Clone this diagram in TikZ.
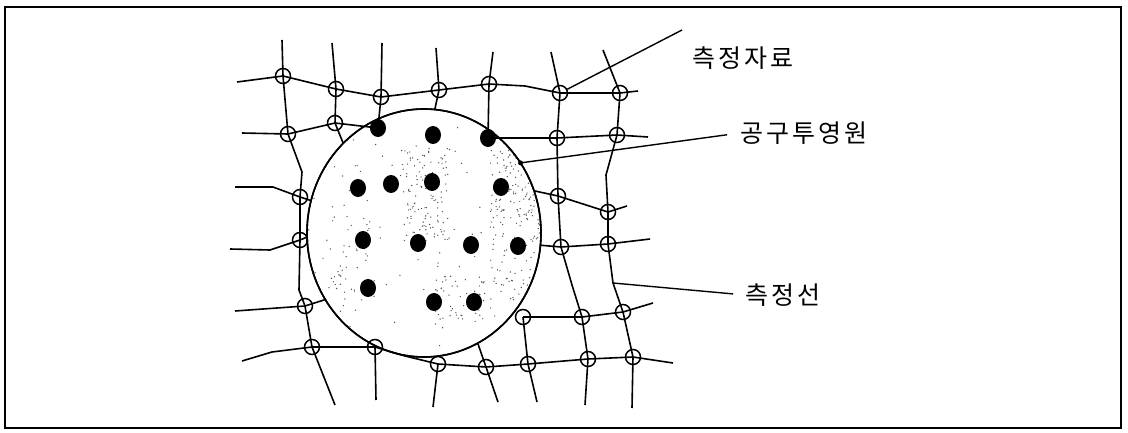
\documentclass[tikz,border=0pt]{standalone}
\usepackage{fontspec}
\newfontfamily\kor[LetterSpace=12]{Noto Sans CJK KR}
\usetikzlibrary{shapes.geometric}
\tikzset{
  mpt/.style={circle,draw,line width=1.5pt,minimum size=15pt,inner sep=0pt},
  tdot/.style={ellipse,fill=black,minimum width=16pt,minimum height=18pt,inner sep=0pt},
  toolc/.style={ellipse,draw,line width=1.6pt,minimum width=234pt,minimum height=248pt,inner sep=0pt,outer sep=0pt},
  mline/.style={line width=1.6pt,line join=round},
  leader/.style={line width=1.4pt},
  lbl/.style={anchor=west,inner sep=0pt,font=\kor\fontsize{25}{30}\selectfont},
  stip/.style={fill=black!70}
}

\begin{document}
\begin{tikzpicture}[x=1pt,y=-1pt]
  \useasboundingbox (0,0) rectangle (1128,433);
  \draw[line width=1.4pt] (5,7) rectangle (1121,428);

  \node[toolc] (tool) at (424,233) {};
  \begin{scope}
    \clip (424,233) ellipse [x radius=117,y radius=124];
    \pgfmathsetseed{11}
    \foreach \i in {1,...,110} {\fill[stip] ({300+245*rnd},{105+260*rnd}) circle (0.7);}
    \foreach \i in {1,...,260} {\fill[stip] ({490+55*rnd},{115+185*rnd}) circle (0.7);}
    \foreach \i in {1,...,120} {\fill[stip] ({400+50*rnd},{145+95*rnd}) circle (0.7);}
    \foreach \i in {1,...,60} {\fill[stip] ({435+50*rnd},{275+50*rnd}) circle (0.7);}
    \foreach \i in {1,...,50} {\fill[stip] ({325+45*rnd},{200+130*rnd}) circle (0.7);}
  \end{scope}
  \draw[line width=1.6pt] (tool.center) ellipse [x radius=117,y radius=124];

  \node[mpt] (a1) at (283,76) {};
  \node[mpt] (a2) at (336,89) {};
  \node[mpt] (a3) at (381,97) {};
  \node[mpt] (a4) at (439,90) {};
  \node[mpt] (a5) at (489,84) {};
  \node[mpt] (a6) at (560,93) {};
  \node[mpt] (a7) at (620,93) {};
  \node[mpt] (b1) at (288,134) {};
  \node[mpt] (b2) at (335,123) {};
  \node[mpt] (b5) at (557,138) {};
  \node[mpt] (b6) at (617,135) {};
  \node[mpt] (c1) at (300,197) {};
  \node[mpt] (c2) at (558,196) {};
  \node[mpt] (c3) at (608,212) {};
  \node[mpt] (f1) at (300,240) {};
  \node[mpt] (f2) at (561,247) {};
  \node[mpt] (f3) at (608,244) {};
  \node[mpt] (g1) at (305,306) {};
  \node[mpt] (g2) at (523,317) {};
  \node[mpt] (g3) at (582,317) {};
  \node[mpt] (g4) at (623,312) {};
  \node[mpt] (h1) at (312,347) {};
  \node[mpt] (h2) at (375,347) {};
  \node[mpt] (h3) at (438,364) {};
  \node[mpt] (h4) at (486,367) {};
  \node[mpt] (h5) at (528,364) {};
  \node[mpt] (h6) at (588,359) {};
  \node[mpt] (h7) at (633,357) {};

  \node[tdot] (d1) at (378,128) {};
  \node[tdot] (d2) at (433,135) {};
  \node[tdot] (d3) at (488,138) {};
  \node[tdot] (d4) at (358,188) {};
  \node[tdot] (d5) at (391,184) {};
  \node[tdot] (d6) at (432,182) {};
  \node[tdot] (d7) at (501,187) {};
  \node[tdot] (d8) at (363,240) {};
  \node[tdot] (d9) at (418,243) {};
  \node[tdot] (d10) at (471,245) {};
  \node[tdot] (d11) at (518,246) {};
  \node[tdot] (d12) at (368,288) {};
  \node[tdot] (d13) at (434,302) {};
  \node[tdot] (d14) at (474,302) {};

  \coordinate (w1) at (237,82);  \coordinate (e1) at (638,91);
  \coordinate (w2) at (242,133); \coordinate (e2) at (648,137);
  \coordinate (w3) at (235,187); \coordinate (e3) at (627,206);
  \coordinate (w4) at (230,249); \coordinate (e4) at (650,239);
  \coordinate (w5) at (235,311); \coordinate (e5) at (653,303);
  \coordinate (w6) at (242,361); \coordinate (e6) at (673,363);
  \coordinate (t1) at (282,40);  \coordinate (s1) at (335,405);
  \coordinate (t2) at (332,43);
  \coordinate (t3) at (382,43);  \coordinate (s3) at (376,400);
  \coordinate (t4) at (436,48);  \coordinate (s4) at (433,407);
  \coordinate (t5) at (493,52);  \coordinate (s5) at (498,402);
  \coordinate (t6) at (551,52);  \coordinate (s6) at (585,405);
  \coordinate (s7) at (537,402);
  \coordinate (t7) at (603,50);  \coordinate (s8) at (632,408);
  \coordinate (gbend) at (613,283);

  \draw[mline] (w1) -- (a1.center) -- (a2.center) -- (a3.center) -- (a4.center) -- (a5.center) -- (525,86) -- (a6.center) -- (a7.center) -- (e1);
  \draw[mline] (w2) -- (b1.center) -- (b2.center) -- (d1.center);
  \draw[mline] (d3.center) -- (b5.center) -- (b6.center) -- (e2);
  \draw[mline] (w3) -- (273,187) -- (c1.center) -- (tool.164);
  \draw[mline] (tool.21) -- (c2.center) -- (c3.center) -- (e3);
  \draw[mline] (w4) -- (270,250) -- (f1.center) -- (tool.182);
  \draw[mline] (tool.-6) -- (f2.center) -- (f3.center) -- (e4);
  \draw[mline] (w5) -- (g1.center) -- (tool.214);
  \draw[mline] (g2.center) -- (g3.center) -- (g4.center) -- (e5);
  \draw[mline] (w6) -- (272,352) -- (h1.center) -- (h2.center) -- (405,356) -- (h3.center) -- (h4.center) -- (h5.center) -- (h6.center) -- (h7.center) -- (e6);

  \draw[mline] (t1) -- (a1.center) -- (b1.center) -- (302,172) -- (c1.center) -- (f1.center) -- (299,290) -- (g1.center) -- (h1.center) -- (s1);
  \draw[mline] (t2) -- (a2.center) -- (b2.center) -- (tool.132);
  \draw[mline] (t3) -- (a3.center) -- (d1.center);
  \draw[mline] (h2.center) -- (s3);
  \draw[mline] (t4) -- (a4.center) -- (tool.85);
  \draw[mline] (h3.center) -- (s4);
  \draw[mline] (t5) -- (a5.center) -- (d3.center);
  \draw[mline] (tool.-64) -- (h4.center) -- (s5);
  \draw[mline] (t6) -- (a6.center) -- (b5.center) -- (c2.center) -- (f2.center) -- (572,285) -- (g3.center) -- (h6.center) -- (s6);
  \draw[mline] (g2.center) -- (h5.center) -- (s7);
  \draw[mline] (t7) -- (a7.center) -- (b6.center) -- (606,175) -- (c3.center) -- (f3.center) -- (gbend) -- (g4.center) -- (h7.center) -- (s8);

  \node[lbl] (datalbl) at (692,58) {측정자료};
  \node[lbl] (toollbl) at (740,133) {공구투영원};
  \node[lbl] (linelbl) at (745,295) {측정선};
  \coordinate (datatip) at (682,30);

  \draw[leader] (a6) -- (datatip);
  \fill (tool.36) circle (2.5);
  \draw[leader,shorten >=13pt] (tool.36) -- (toollbl.west);
  \draw[leader,shorten >=12pt] (gbend) -- (linelbl.west);
\end{tikzpicture}
\end{document}
